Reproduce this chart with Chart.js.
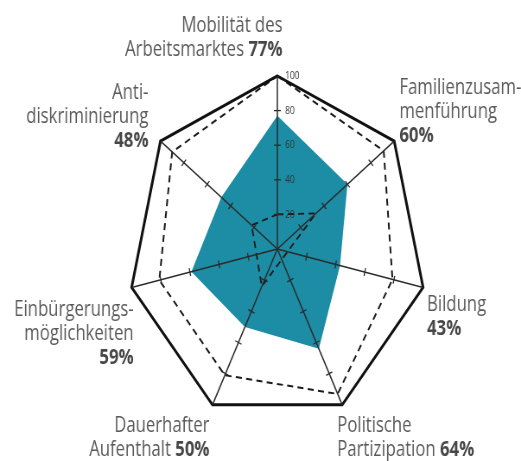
<!DOCTYPE html>
<html><head><meta charset="utf-8">
<script src="https://cdn.jsdelivr.net/npm/chart.js@4"></script>
<style>
html,body{margin:0;padding:0;background:#fff;overflow:hidden;}
#wrap{width:603px;height:461px;transform:scaleX(0.864);transform-origin:0 0;}
canvas{display:block;}
</style></head><body>
<div id="wrap"><canvas id="c" width="603" height="461"></canvas></div>
<script>
// ---- data ----
const categories = [
  ['Mobilität des', 'Arbeitsmarktes'],
  ['Familienzusam-', 'menführung', ''],
  ['Bildung', ''],
  ['Politische', 'Partizipation'],
  ['Dauerhafter', 'Aufenthalt'],
  ['Einbürgerungs-', 'möglichkeiten', ''],
  ['Anti-', 'diskriminierung', '']
];
const scores = [77, 60, 43, 64, 50, 59, 48];
const dashedOuter = [100, 91, 79, 93, 81, 81, 90];
const dashedInner = [20, 33, null, null, 24, null, 22];
const tickValues = [20, 40, 60, 80, 100];

// ---- styling / layout ----
const TEXT_SX = 0.88;
const FONT_FAMILY = '"Open Sans", "DejaVu Sans", sans-serif';
const LABEL_SIZE = 22;
const LINE_H = 24;
const labelLayout = [
  {align: 'right', dx: 6, dy: -44.5},
  {align: 'left', dx: 6, dy: -46.7},
  {align: 'left', dx: 4.6, dy: 24},
  {align: 'left', dx: -5.8, dy: 27.5},
  {align: 'right', dx: -3.5, dy: 27.5},
  {align: 'right', dx: 2.3, dy: 28.3},
  {align: 'right', dx: -13.9, dy: -42}
];

const overlay = {
  id: 'overlay',
  afterDraw(chart) {
    const r = chart.scales.r;
    const ctx = chart.ctx;
    const n = chart.data.labels.length;
    ctx.save();
    // tick marks across spokes
    ctx.strokeStyle = '#2b2b2b';
    ctx.lineWidth = 1.3;
    for (let i = 0; i < n; i++) {
      const a = r.getIndexAngle(i) - Math.PI / 2;
      const px = -Math.sin(a), py = Math.cos(a);
      tickValues.filter(v => v < r.max).forEach(v => {
        const p = r.getPointPositionForValue(i, v);
        ctx.beginPath();
        ctx.moveTo(p.x - px * 4, p.y - py * 4);
        ctx.lineTo(p.x + px * 4, p.y + py * 4);
        ctx.stroke();
      });
    }
    // tick labels on first spoke
    ctx.fillStyle = '#333';
    ctx.textBaseline = 'middle';
    ctx.textAlign = 'left';
    ctx.font = '11px ' + FONT_FAMILY;
    r.ticks.forEach(t => {
      if (!tickValues.includes(t.value)) return;
      const p = r.getPointPositionForValue(0, t.value);
      ctx.save();
      ctx.translate(p.x + 9, p.y);
      ctx.scale(TEXT_SX, 1);
      ctx.fillText(t.label, 0, 0);
      ctx.restore();
    });
    // point labels with bold percentages
    ctx.textBaseline = 'alphabetic';
    const regFont = '400 ' + LABEL_SIZE + 'px ' + FONT_FAMILY;
    const boldFont = '700 ' + LABEL_SIZE + 'px ' + FONT_FAMILY;
    for (let i = 0; i < n; i++) {
      const v = r.getPointPositionForValue(i, r.max);
      const lay = labelLayout[i];
      const lines = categories[i];
      lines.forEach((line, j) => {
        let reg = line, bold = '';
        if (j === lines.length - 1) {
          bold = scores[i] + '%';
          reg = line ? line + ' ' : '';
        }
        ctx.font = regFont;
        const w1 = ctx.measureText(reg).width;
        ctx.font = boldFont;
        const w2 = bold ? ctx.measureText(bold).width : 0;
        const W = (w1 + w2) * TEXT_SX;
        const x0 = lay.align === 'right' ? v.x + lay.dx - W : v.x + lay.dx;
        const y = v.y + lay.dy + j * LINE_H;
        ctx.save();
        ctx.translate(x0, y);
        ctx.scale(TEXT_SX, 1);
        ctx.textAlign = 'left';
        if (reg) { ctx.font = regFont; ctx.fillStyle = '#5a5a5a'; ctx.fillText(reg, 0, 0); }
        if (bold) { ctx.font = boldFont; ctx.fillStyle = '#474747'; ctx.fillText(bold, w1, 0); }
        ctx.restore();
      });
    }
    ctx.restore();
  }
};

new Chart(document.getElementById('c'), {
  type: 'radar',
  data: {
    labels: categories.map(l => l.filter(Boolean).join(' ')),
    datasets: [
      {
        data: dashedOuter,
        borderColor: '#1a1a1a',
        borderWidth: 2,
        borderDash: [7, 5],
        pointRadius: 0,
        fill: false,
        order: 0
      },
      {
        data: dashedInner,
        borderColor: '#1a1a1a',
        borderWidth: 1.8,
        borderDash: [7, 5],
        pointRadius: 0,
        fill: false,
        spanGaps: true,
        order: 0
      },
      {
        data: scores,
        backgroundColor: '#1c8da4',
        borderWidth: 0,
        pointRadius: 0,
        fill: true,
        order: 5
      }
    ]
  },
  options: {
    responsive: false,
    animation: false,
    layout: {padding: {left: 148, right: 109, top: 76, bottom: 39}},
    plugins: {legend: {display: false}, tooltip: {enabled: false}},
    scales: {
      r: {
        min: 0,
        max: 100,
        ticks: {display: false, stepSize: 20},
        pointLabels: {display: false},
        grid: {
          z: 1,
          color: '#111',
          lineWidth: c => (c.tick && c.tick.value === 100 ? 3 : 0)
        },
        angleLines: {color: '#2b2b2b', lineWidth: 1.5}
      }
    }
  },
  plugins: [overlay]
});
</script>
</body></html>
